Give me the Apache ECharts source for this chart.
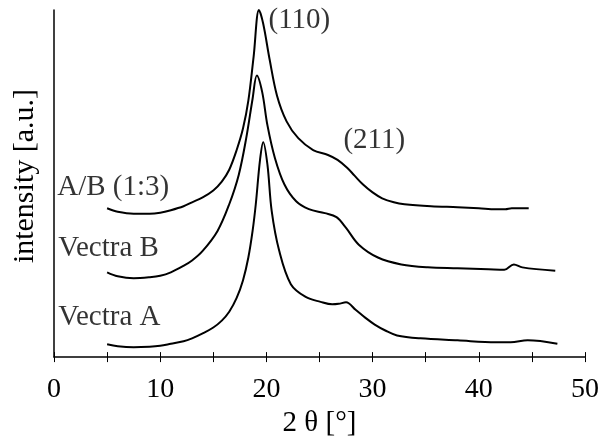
<!DOCTYPE html>
<html>
<head>
<meta charset="utf-8">
<script src="https://cdn.jsdelivr.net/npm/echarts@6/dist/echarts.min.js"></script>
<style>html,body{margin:0;padding:0;background:#fff}#c{width:602px;height:443px}</style>
</head>
<body>
<div id="c"></div>
<script>
// 2θ positions and intensities (a.u., arbitrary vertical offset per curve)
const xAB = [5, 6, 7.5, 9, 10, 11, 12.2, 13, 14, 15, 15.8, 16.5, 17.2, 17.8, 18.3, 18.8, 19.3, 19.7, 20.3, 21, 21.9, 23, 24.4, 25.8, 26.7, 27.6, 28.3, 29.1, 30, 30.9, 32, 33, 35.5, 38, 40, 41.6, 42.5, 43.1, 44.7];
const yAB = [151, 147.5, 145.5, 145.5, 146.5, 149, 153, 157, 162, 169, 178, 190, 210, 232, 260, 305, 352, 338, 302, 265, 239, 222, 210, 205, 200, 192, 184, 175, 167, 161, 157, 155, 153, 152, 151, 150, 150, 151, 151];

const xB = [5, 6, 7.5, 9, 10, 11, 12.2, 13, 14, 15.4, 16.5, 17.4, 18.1, 18.7, 19.1, 19.6, 20.1, 20.8, 21.7, 22.8, 24, 25.5, 26.6, 27.5, 28.7, 30.5, 32.7, 35.2, 38, 40.9, 42.4, 43.3, 44.1, 47.2];
const yB = [86, 82, 80, 81, 82.5, 86, 92.6, 98, 107.7, 128, 155, 185, 222, 262, 285.6, 269, 235, 202, 175, 158, 150, 146, 142, 131, 114, 101, 94, 91, 90, 89, 88.5, 94, 91, 87.5];

const xA = [5, 6, 7.5, 9, 10, 11, 12.2, 13, 14, 15, 15.8, 16.5, 17.2, 17.8, 18.3, 18.7, 19, 19.4, 19.7, 20.1, 20.5, 21.2, 22.3, 23.7, 25.1, 26.2, 26.8, 27.5, 28.4, 29.3, 30.2, 31.2, 32.3, 34.5, 38, 41.6, 43, 44.6, 47.4];
const yA = [13, 11, 10, 10.5, 11.5, 13.5, 16, 19, 24, 30, 37, 46, 60, 78, 101, 128, 155, 200, 218, 195, 148, 108, 74, 61, 56, 53.5, 54, 55.5, 48, 40, 33, 27, 22, 19, 17, 15, 15, 17, 13.5];

// annotation texts and their anchor (left-middle) in data coordinates
const noteText = ['(110)', '(211)', 'A/B (1:3)', 'Vectra B', 'Vectra A'];
const noteX = [20.2, 27.25, 0.3, 0.4, 0.4];
const noteY = [341, 220, 172, 110, 40];

const xTickLabels = ['0', '10', '20', '30', '40', '50'];

const FONT = 'Liberation Serif, Times New Roman, serif';
const zip = (xs, ys) => xs.map((x, i) => [x, ys[i]]);

const lineStyle = { color: '#000', width: 2 };
const mkLine = (name, xs, ys) => ({
  name, type: 'line', data: zip(xs, ys), smooth: 0.35, symbol: 'none',
  lineStyle, silent: true, z: 3
});

const chart = echarts.init(document.getElementById('c'), null, { renderer: 'canvas' });
chart.setOption({
  backgroundColor: '#fff',
  animation: false,
  grid: { left: 54, right: 14, top: 10, bottom: 81 },
  xAxis: [{
    type: 'value', min: 0, max: 50, interval: 5,
    name: '2 θ [°]', nameLocation: 'middle', nameGap: 50,
    nameTextStyle: { fontFamily: FONT, fontSize: 29, color: '#000' },
    axisLine: { lineStyle: { color: '#000', width: 1.5 } },
    axisTick: { show: true, length: 5, lineStyle: { color: '#000', width: 1 } },
    axisLabel: {
      fontFamily: FONT, fontSize: 28, color: '#000', margin: 19,
      formatter: v => (v % 10 === 0 ? xTickLabels[v / 10] : '')
    },
    splitLine: { show: false }
  }, {
    type: 'value', min: 0, max: 50, interval: 5, position: 'bottom',
    axisLine: { show: false },
    axisTick: { show: true, inside: true, length: 5, lineStyle: { color: '#000', width: 1 } },
    axisLabel: { show: false },
    splitLine: { show: false }
  }],
  yAxis: {
    type: 'value', min: 0, max: 352,
    name: 'intensity [a.u.]', nameLocation: 'middle', nameGap: 14,
    nameTextStyle: { fontFamily: FONT, fontSize: 30, color: '#000', padding: [0, 0, 0, 15] },
    axisLine: { show: true, lineStyle: { color: '#000', width: 1.5 } },
    axisTick: { show: false }, axisLabel: { show: false }, splitLine: { show: false }
  },
  series: [
    mkLine('A/B (1:3)', xAB, yAB),
    mkLine('Vectra B', xB, yB),
    mkLine('Vectra A', xA, yA),
    {
      type: 'scatter', symbolSize: 0, silent: true, z: 5,
      data: noteText.map((t, i) => ({ value: [noteX[i], noteY[i]], name: t })),
      label: {
        show: true, position: 'right', distance: 0,
        formatter: p => p.name,
        fontFamily: FONT, fontSize: 29, color: '#000'
      }
    }
  ]
});
</script>
</body>
</html>
